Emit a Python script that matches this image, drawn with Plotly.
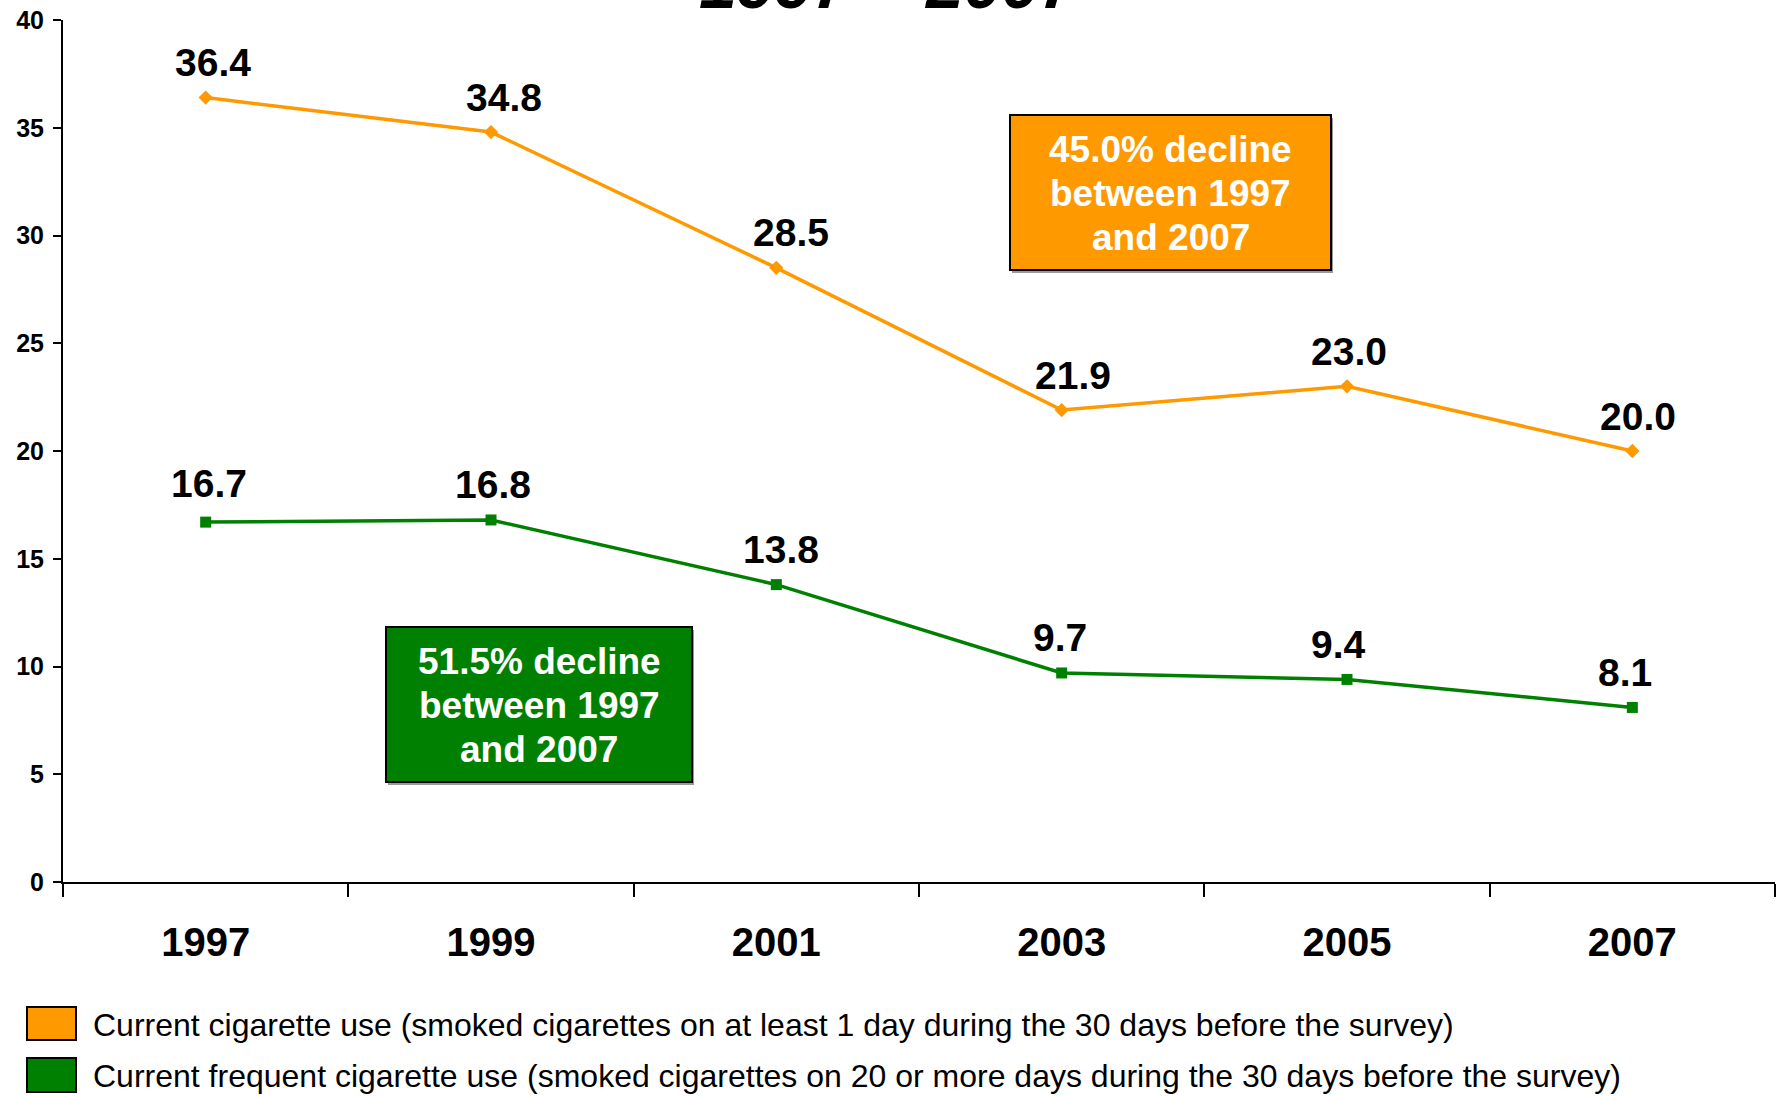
import plotly.graph_objects as go

# Survey years and prevalence (%)
years = ["1997", "1999", "2001", "2003", "2005", "2007"]
current_use = [36.4, 34.8, 28.5, 21.9, 23.0, 20.0]
frequent_use = [16.7, 16.8, 13.8, 9.7, 9.4, 8.1]

series_names = [
    "Current cigarette use (smoked cigarettes on at least 1 day during the 30 days before the survey)",
    "Current frequent cigarette use (smoked cigarettes on 20 or more days during the 30 days before the survey)",
]
box_lines = [
    ["45.0% decline", "between 1997", "and 2007"],
    ["51.5% decline", "between 1997", "and 2007"],
]
title_text = "1997 – 2007"

ORANGE = "#FF9900"
GREEN = "#008000"
FONT = "Arial, Liberation Sans, sans-serif"

# small nudges for the value labels (px)
current_label_dx = [7, 13, 15, 11, 2, 6]
current_label_dy = [0, 0, 0, 0, 0, 0]
frequent_label_dx = [3, 2, 5, -2, -9, -7]
frequent_label_dy = [4, 0, 0, 0, 0, 0]

fig = go.Figure()
fig.add_trace(go.Scatter(
    x=years, y=current_use, mode="lines+markers", name=series_names[0],
    line=dict(color=ORANGE, width=3.5),
    marker=dict(symbol="diamond", size=11, color=ORANGE),
    showlegend=False,
))
fig.add_trace(go.Scatter(
    x=years, y=frequent_use, mode="lines+markers", name=series_names[1],
    line=dict(color=GREEN, width=3.5),
    marker=dict(symbol="square", size=11, color=GREEN),
    showlegend=False,
))

annotations = []
for vals, dxs, dys in ((current_use, current_label_dx, current_label_dy),
                       (frequent_use, frequent_label_dx, frequent_label_dy)):
    for i, (v, dx, dy) in enumerate(zip(vals, dxs, dys)):
        # category axis: position by category index
        annotations.append(dict(
            x=i, y=v, xref="x", yref="y", text=f"<b>{v:.1f}</b>",
            showarrow=False, yshift=35 + dy, xshift=dx,
            font=dict(family=FONT, size=39, color="black"),
        ))

# plot-area pixel helpers (plot area 63..1775 x, 20..882 y)
PL, PR, PT, PB = 63, 1775, 20, 882
def px(x):
    return (x - PL) / (PR - PL)
def py(y):
    return (PB - y) / (PB - PT)

shapes = []
# decline callout boxes
for (x0, y0, x1, y1), col, lines in (
    ((1010, 115, 1331, 270), ORANGE, box_lines[0]),
    ((386, 627, 692, 782), GREEN, box_lines[1]),
):
    shapes.append(dict(type="rect", xref="paper", yref="paper",
                       x0=px(x0 + 2), x1=px(x1 + 2), y0=py(y1 + 3), y1=py(y0 + 3),
                       line=dict(width=0), fillcolor="#9a9a9a", layer="above"))
    shapes.append(dict(type="rect", xref="paper", yref="paper",
                       x0=px(x0), x1=px(x1), y0=py(y1), y1=py(y0),
                       line=dict(color="black", width=2), fillcolor=col, layer="above"))
    cx, cy = (x0 + x1) / 2, (y0 + y1) / 2
    for k, line in enumerate(lines):
        annotations.append(dict(
            x=px(cx), y=py(cy + (k - 1) * 44 + 1), xref="paper", yref="paper",
            text=f"<b>{line}</b>", showarrow=False,
            xanchor="center", yanchor="middle",
            font=dict(family=FONT, size=37, color="white"),
        ))

# legend swatches and labels
for (y0, y1), col, name in (
    ((1007, 1040), ORANGE, series_names[0]),
    ((1058, 1092), GREEN, series_names[1]),
):
    shapes.append(dict(type="rect", xref="paper", yref="paper",
                       x0=px(27), x1=px(76), y0=py(y1), y1=py(y0),
                       line=dict(color="black", width=2), fillcolor=col))
    annotations.append(dict(
        x=px(91), y=py((y0 + y1) / 2 + 1), xref="paper", yref="paper",
        text=name, showarrow=False, xanchor="left", yanchor="middle",
        font=dict(family=FONT, size=32, color="black"),
    ))

# title, mostly above the visible page
annotations.append(dict(
    x=px(889), y=py(8), xref="paper", yref="paper", text=f"<b><i>{title_text}</i></b>",
    showarrow=False, xanchor="center", yanchor="bottom", yshift=-16,
    font=dict(family=FONT, size=68, color="black"),
))

fig.update_layout(
    width=1782, height=1096,
    margin=dict(l=PL, r=1782 - PR, t=PT, b=1096 - PB),
    paper_bgcolor="white", plot_bgcolor="white",
    annotations=annotations, shapes=shapes,
    font=dict(family=FONT, color="black"),
)
fig.update_xaxes(
    type="category", range=[-0.5, 5.5], tickson="boundaries", automargin=False,
    ticks="outside", ticklen=13, tickwidth=2, tickcolor="black",
    showline=True, linecolor="black", linewidth=2, showgrid=False, zeroline=False,
    tickfont=dict(family=FONT, size=40, color="black"),
    tickprefix="<b>", ticksuffix="</b>", ticklabelstandoff=24,
)
fig.update_yaxes(
    range=[0, 40], dtick=5, tick0=0, automargin=False,
    ticks="outside", ticklen=8, tickwidth=2, tickcolor="black",
    showline=True, linecolor="black", linewidth=2, showgrid=False, zeroline=False,
    tickfont=dict(family=FONT, size=25, color="black"),
    tickprefix="<b>", ticksuffix="</b>", ticklabelstandoff=4,
)

fig.write_html("out.html")
